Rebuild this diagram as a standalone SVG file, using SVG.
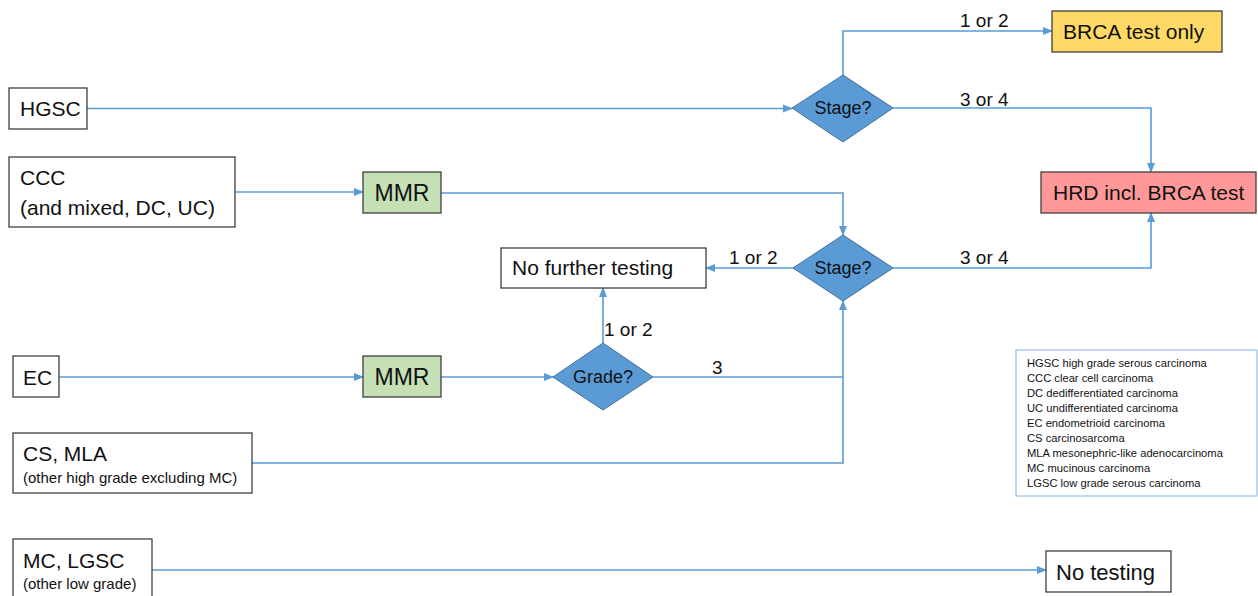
<svg xmlns="http://www.w3.org/2000/svg" width="1258" height="596" viewBox="0 0 1258 596">
<style>
text{font-family:"Liberation Sans",Arial,sans-serif;fill:#111}
.box{fill:#fff;stroke:#3f3f3f;stroke-width:1.3}
.mmr{fill:#c5e0b4;stroke:#3f3f3f;stroke-width:1.3}
.dia{fill:#5b9bd5;stroke:#41719c;stroke-width:1}
.t{font-size:21px}
.s{font-size:15px}
.d{font-size:18px;text-anchor:middle}
.l{font-size:19px}
.lg{font-size:11.2px}
.c{fill:none;stroke:#5b9bd5;stroke-width:1.6}
.a{marker-end:url(#arr)}
</style>
<defs>
<marker id="arr" markerUnits="userSpaceOnUse" markerWidth="10" markerHeight="10" viewBox="0 0 10 10" refX="9" refY="5" orient="auto">
<path d="M0,1 L10,5 L0,9 Z" fill="#5b9bd5"/>
</marker>
</defs>
<rect width="1258" height="596" fill="#fff"/>
<g id="connectors">
<path class="c a" d="M87,108.5 H792"/>
<path class="c a" d="M843,75 V31 H1052"/>
<path class="c a" d="M893,108 H1151 V172"/>
<path class="c a" d="M235,192 H363"/>
<path class="c a" d="M441,193 H843 V235"/>
<path class="c a" d="M793,268 H706"/>
<path class="c a" d="M893,268 H1151 V213"/>
<path class="c a" d="M59,377 H363"/>
<path class="c a" d="M441,377 H553"/>
<path class="c a" d="M603,343 V288"/>
<path class="c" d="M653,377 H843"/>
<path class="c a" d="M252,463 H843 V301"/>
<path class="c a" d="M152,570 H1046"/>
<text class="l" x="960" y="27">1 or 2</text>
<text class="l" x="960" y="106">3 or 4</text>
<text class="l" x="729" y="264">1 or 2</text>
<text class="l" x="960" y="264">3 or 4</text>
<text class="l" x="604" y="336">1 or 2</text>
<text class="l" x="712" y="374">3</text>
</g>
<g id="hgsc"><rect class="box" x="9" y="88" width="78" height="41"/><text class="t" x="20" y="116">HGSC</text></g>
<g id="ccc"><rect class="box" x="9" y="157" width="226" height="70"/><text class="t" x="20" y="185">CCC</text><text class="t" x="20" y="215">(and mixed, DC, UC)</text></g>
<g id="mmr1"><rect class="mmr" x="363" y="172" width="78" height="41"/><text x="402" y="201" text-anchor="middle" font-size="23">MMR</text></g>
<g id="stage1"><polygon class="dia" points="843,75 893,108 843,142 792,108"/><text class="d" x="843" y="114">Stage?</text></g>
<g id="brca"><rect x="1052" y="11" width="170" height="41" fill="#ffd966" stroke="#3f3f3f" stroke-width="1.3"/><text class="t" x="1063" y="39">BRCA test only</text></g>
<g id="hrd"><rect x="1041" y="172" width="215" height="41" fill="#ff9999" stroke="#3f3f3f" stroke-width="1.3"/><text class="t" x="1053" y="200">HRD incl. BRCA test</text></g>
<g id="stage2"><polygon class="dia" points="843,235 893,268 843,301 793,268"/><text class="d" x="843" y="274">Stage?</text></g>
<g id="nft"><rect class="box" x="501" y="248" width="205" height="40"/><text class="t" x="512" y="275">No further testing</text></g>
<g id="ec"><rect class="box" x="13" y="356" width="46" height="41"/><text class="t" x="23" y="385">EC</text></g>
<g id="mmr2"><rect class="mmr" x="363" y="356" width="78" height="41"/><text x="402" y="385" text-anchor="middle" font-size="23">MMR</text></g>
<g id="grade"><polygon class="dia" points="603,343 653,377 603,410 553,377"/><text class="d" x="603" y="383">Grade?</text></g>
<g id="cs"><rect class="box" x="13" y="433" width="239" height="60"/><text class="t" x="23" y="461">CS, MLA</text><text class="s" x="23" y="483">(other high grade excluding MC)</text></g>
<g id="mc"><rect class="box" x="13" y="539" width="139" height="62"/><text class="t" x="23" y="568">MC, LGSC</text><text class="s" x="23" y="589">(other low grade)</text></g>
<g id="notesting"><rect class="box" x="1046" y="551" width="125" height="41"/><text x="1056" y="580" font-size="22">No testing</text></g>
<g id="legend">
<rect x="1016" y="350" width="241" height="146" fill="#fff" stroke="#9dc3e6" stroke-width="1.3"/>
<text class="lg" x="1027" y="367">HGSC high grade serous carcinoma</text>
<text class="lg" x="1027" y="382">CCC clear cell carcinoma</text>
<text class="lg" x="1027" y="397">DC dedifferentiated carcinoma</text>
<text class="lg" x="1027" y="412">UC undifferentiated carcinoma</text>
<text class="lg" x="1027" y="427">EC endometrioid carcinoma</text>
<text class="lg" x="1027" y="442">CS carcinosarcoma</text>
<text class="lg" x="1027" y="457">MLA mesonephric-like adenocarcinoma</text>
<text class="lg" x="1027" y="472">MC mucinous carcinoma</text>
<text class="lg" x="1027" y="487">LGSC low grade serous carcinoma</text>
</g>
</svg>
